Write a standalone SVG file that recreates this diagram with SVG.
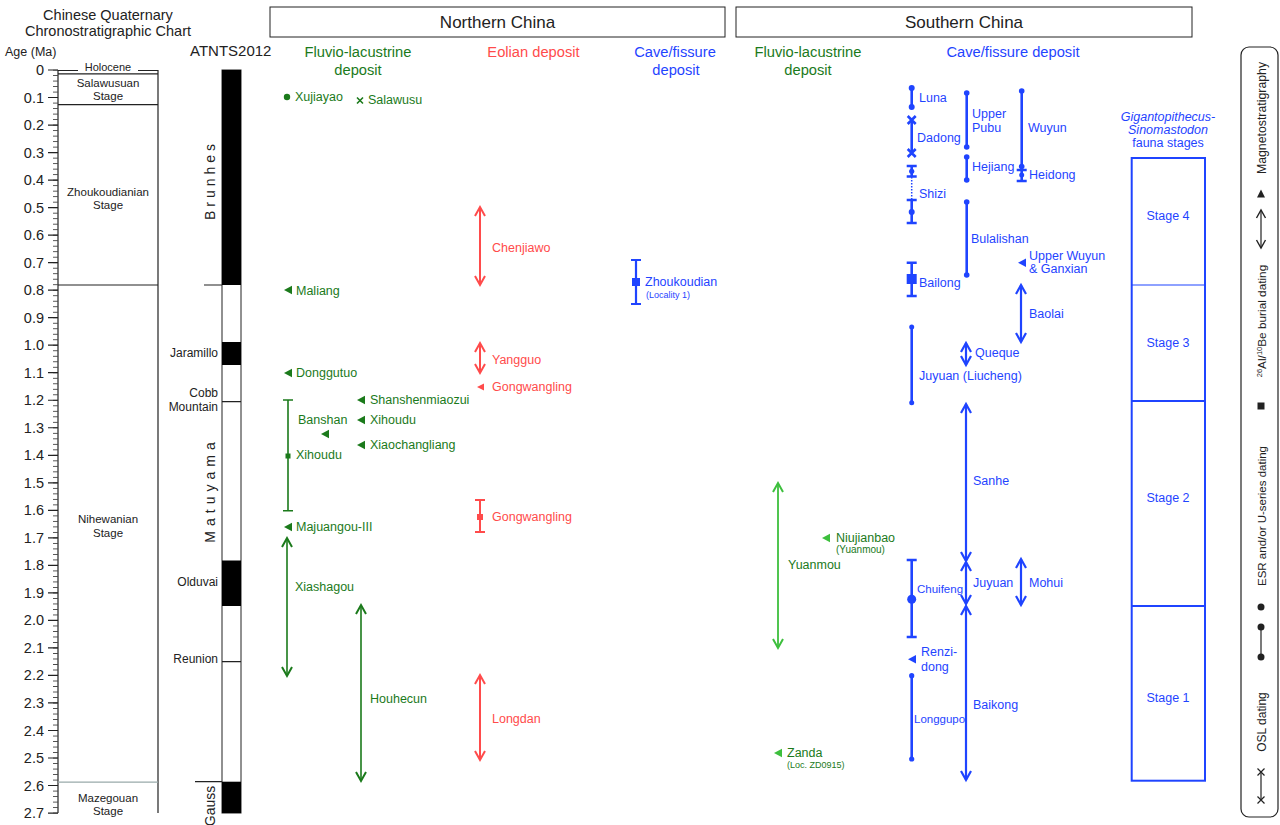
<svg xmlns="http://www.w3.org/2000/svg" width="1280" height="825" viewBox="0 0 1280 825">
<style>
text{font-family:"Liberation Sans",Arial,sans-serif}
.k{fill:#222}
.g{fill:#1b7a1b}
.lg{fill:#3dbf3d}
.r{fill:#ff4b4b}
.b{fill:#1f44ff}
.f12{font-size:12.5px}
.f11{font-size:11.5px}
.f10{font-size:10px}
.f9{font-size:9px}
.mid{text-anchor:middle}
.end{text-anchor:end}
.sg{stroke:#1b7a1b;stroke-width:1.6;fill:none}
.sl{stroke:#3dbf3d;stroke-width:1.8;fill:none}
.sr{stroke:#ff4b4b;stroke-width:2;fill:none}
.sb{stroke:#1f44ff;stroke-width:2.6;fill:none}
.sba{stroke:#1f44ff;stroke-width:2.2;fill:none}
.sk{stroke:#222;stroke-width:1.2;fill:none}
</style>
<defs>
<pattern id="tk" patternUnits="userSpaceOnUse" x="0" y="69.6" width="10" height="5.504"><rect x="0" y="0" width="10" height="0.9" fill="#444"/></pattern>
<marker id="aG" viewBox="-10 -6 13 12" refX="0" refY="0" markerWidth="13" markerHeight="12" markerUnits="userSpaceOnUse" orient="auto-start-reverse" overflow="visible"><path d="M-9,-5L0,0L-9,5" fill="none" stroke="#1b7a1b" stroke-width="2"/></marker>
<marker id="aL" viewBox="-10 -6 13 12" refX="0" refY="0" markerWidth="13" markerHeight="12" markerUnits="userSpaceOnUse" orient="auto-start-reverse" overflow="visible"><path d="M-9,-5L0,0L-9,5" fill="none" stroke="#3dbf3d" stroke-width="2"/></marker>
<marker id="aR" viewBox="-10 -6 13 12" refX="0" refY="0" markerWidth="13" markerHeight="12" markerUnits="userSpaceOnUse" orient="auto-start-reverse" overflow="visible"><path d="M-9,-5L0,0L-9,5" fill="none" stroke="#ff4b4b" stroke-width="2"/></marker>
<marker id="aB" viewBox="-10 -6 13 12" refX="0" refY="0" markerWidth="13" markerHeight="12" markerUnits="userSpaceOnUse" orient="auto-start-reverse" overflow="visible"><path d="M-9,-5L0,0L-9,5" fill="none" stroke="#1f44ff" stroke-width="2.2"/></marker>
<marker id="aK" viewBox="-10 -6 13 12" refX="0" refY="0" markerWidth="13" markerHeight="12" markerUnits="userSpaceOnUse" orient="auto-start-reverse" overflow="visible"><path d="M-8,-4.5L0,0L-8,4.5" fill="none" stroke="#222" stroke-width="1.4"/></marker>
</defs>
<rect width="1280" height="825" fill="#fff"/>

<!-- Chronostratigraphic chart -->
<g id="chrono">
<text class="k mid" x="108" y="20" font-size="14.5">Chinese Quaternary</text>
<text class="k mid" x="108" y="36" font-size="14.5">Chronostratigraphic Chart</text>
<text class="k" x="5" y="56" font-size="12.5">Age (Ma)</text>
<line x1="58" y1="70" x2="58" y2="813" class="sk"/>
<rect x="53" y="69.5" width="5" height="744" fill="url(#tk)"/>
<path class="sk" stroke-width="1.6" d="M48 70h10M48 97.52h10M48 125.04h10M48 152.56h10M48 180.08h10M48 207.6h10M48 235.12h10M48 262.64h10M48 290.16h10M48 317.68h10M48 345.2h10M48 372.72h10M48 400.24h10M48 427.76h10M48 455.28h10M48 482.8h10M48 510.32h10M48 537.84h10M48 565.36h10M48 592.88h10M48 620.4h10M48 647.92h10M48 675.44h10M48 702.96h10M48 730.48h10M48 758h10M48 785.52h10M48 813.04h10"/>
<g class="k end" font-size="14.5">
<text x="44" y="75">0</text><text x="44" y="102.5">0.1</text><text x="44" y="130">0.2</text><text x="44" y="157.6">0.3</text><text x="44" y="185">0.4</text><text x="44" y="212.6">0.5</text><text x="44" y="240">0.6</text><text x="44" y="267.6">0.7</text><text x="44" y="295">0.8</text><text x="44" y="322.7">0.9</text><text x="44" y="350.2">1.0</text><text x="44" y="377.7">1.1</text><text x="44" y="405.2">1.2</text><text x="44" y="432.8">1.3</text><text x="44" y="460.3">1.4</text><text x="44" y="487.8">1.5</text><text x="44" y="515.3">1.6</text><text x="44" y="542.8">1.7</text><text x="44" y="570.4">1.8</text><text x="44" y="597.9">1.9</text><text x="44" y="625.4">2.0</text><text x="44" y="652.9">2.1</text><text x="44" y="680.4">2.2</text><text x="44" y="708">2.3</text><text x="44" y="735.5">2.4</text><text x="44" y="763">2.5</text><text x="44" y="790.5">2.6</text><text x="44" y="818">2.7</text>
</g>
<path class="sk" d="M58 70.5H78M138 70.5H158M58 73.8H158M58 104.7H158M58 285H158M158 70V813"/>
<line x1="58" y1="782.2" x2="158" y2="782.2" stroke="#9aa" stroke-width="1.2"/>
<text class="k mid" x="108" y="71" font-size="11">Holocene</text>
<g class="k mid" font-size="11.5">
<text x="108" y="87">Salawusuan</text><text x="108" y="100">Stage</text>
<text x="108" y="196">Zhoukoudianian</text><text x="108" y="209">Stage</text>
<text x="108" y="523">Nihewanian</text><text x="108" y="537">Stage</text>
<text x="108" y="802">Mazegouan</text><text x="108" y="815">Stage</text>
</g>
</g>

<!-- Polarity column -->
<g id="atnts">
<text class="k" x="190" y="56" font-size="15">ATNTS2012</text>
<rect x="222" y="70" width="19" height="743" fill="#fff" stroke="#222" stroke-width="1"/>
<rect x="222" y="70" width="19" height="215" fill="#000"/>
<rect x="222" y="342" width="19" height="23" fill="#000"/>
<rect x="222" y="560.5" width="19" height="45.5" fill="#000"/>
<rect x="222" y="781.7" width="19" height="31.3" fill="#000"/>
<path class="sk" stroke-width="1.8" d="M222 401.7H241M222 661.7H241"/>
<path class="sk" d="M204 285H222M195 781.7H222"/>
<text class="k" transform="translate(215,180) rotate(-90)" text-anchor="middle" font-size="14" letter-spacing="4">Brunhes</text>
<text class="k" transform="translate(215,490) rotate(-90)" text-anchor="middle" font-size="14" letter-spacing="5">Matuyama</text>
<text class="k" transform="translate(215,806) rotate(-90)" text-anchor="middle" font-size="14">Gauss</text>
<g class="k end" font-size="12">
<text x="218" y="357">Jaramillo</text>
<text x="218" y="397">Cobb</text><text x="218" y="411">Mountain</text>
<text x="218" y="586">Olduvai</text>
<text x="218" y="663">Reunion</text>
</g>
</g>

<!-- Region headers -->
<g id="north-header">
<rect x="270" y="7" width="455" height="30" fill="#fff" stroke="#222" stroke-width="1"/>
<text class="k mid" x="497.5" y="28" font-size="17">Northern China</text>
</g>
<g id="south-header">
<rect x="736" y="7" width="456" height="30" fill="#fff" stroke="#222" stroke-width="1"/>
<text class="k mid" x="964" y="28" font-size="17">Southern China</text>
</g>
<g id="column-headers" font-size="14.7">
<text class="g mid" x="358" y="57">Fluvio-lacustrine</text><text class="g mid" x="358" y="75">deposit</text>
<text class="r mid" x="533.5" y="57">Eolian deposit</text>
<text class="b mid" x="675" y="57">Cave/fissure</text><text class="b mid" x="676" y="75">deposit</text>
<text class="g mid" x="808" y="57">Fluvio-lacustrine</text><text class="g mid" x="808" y="75">deposit</text>
<text class="b mid" x="1013" y="57">Cave/fissure deposit</text>
</g>

<!-- Northern fluvio-lacustrine -->
<g id="xujiayao"><circle cx="287" cy="97" r="3.2" class="g"/><text class="g f12" x="295" y="101">Xujiayao</text></g>
<g id="salawusu"><path class="sg" stroke-width="1.8" d="M357 97.5l6 6M363 97.5l-6 6"/><text class="g f12" x="368" y="104">Salawusu</text></g>
<g id="maliang"><path class="g" d="M284 290l8-4.2v8.4z"/><text class="g f12" x="296" y="295">Maliang</text></g>
<g id="donggutuo"><path class="g" d="M284 373l8-4.2v8.4z"/><text class="g f12" x="296" y="377">Donggutuo</text></g>
<g id="shanshenmiaozui"><path class="g" d="M357 400l8-4.2v8.4z"/><text class="g f12" x="370" y="404">Shanshenmiaozui</text></g>
<g id="xihoudu-1"><path class="g" d="M357 420l8-4.2v8.4z"/><text class="g f12" x="370" y="424">Xihoudu</text></g>
<g id="banshan"><text class="g f12" x="298" y="424">Banshan</text><path class="g" d="M321 434l8-4.2v8.4z"/></g>
<g id="xiaochangliang"><path class="g" d="M357 445l8-4.2v8.4z"/><text class="g f12" x="370" y="449">Xiaochangliang</text></g>
<g id="xihoudu-2"><path class="sg" d="M288 400V510.7M283 400h10M283 510.7h10"/><rect x="285.5" y="453.5" width="5" height="5" class="g"/><text class="g f12" x="296" y="459">Xihoudu</text></g>
<g id="majuangou"><path class="g" d="M284 527l8-4.2v8.4z"/><text class="g f12" x="296" y="531">Majuangou-III</text></g>
<g id="xiashagou"><line x1="287" y1="538" x2="287" y2="676" class="sg" marker-start="url(#aG)" marker-end="url(#aG)"/><text class="g f12" x="295" y="591">Xiashagou</text></g>
<g id="houhecun"><line x1="361" y1="605" x2="361" y2="781" class="sg" stroke-width="2.2" marker-start="url(#aG)" marker-end="url(#aG)"/><text class="g f12" x="370" y="703">Houhecun</text></g>

<!-- Northern eolian -->
<g id="chenjiawo"><line x1="480" y1="207" x2="480" y2="285" class="sr" marker-start="url(#aR)" marker-end="url(#aR)"/><text class="r f12" x="492" y="252">Chenjiawo</text></g>
<g id="yangguo"><line x1="480" y1="343" x2="480" y2="373" class="sr" marker-start="url(#aR)" marker-end="url(#aR)"/><text class="r f12" x="492" y="364">Yangguo</text></g>
<g id="gongwangling-1"><path class="r" d="M477 387l7-3.6v7.2z"/><text class="r f12" x="492" y="391">Gongwangling</text></g>
<g id="gongwangling-2"><path class="sr" d="M480 500V532M475 500h10M475 532h10"/><rect x="477" y="514" width="6" height="6" class="r"/><text class="r f12" x="492" y="521">Gongwangling</text></g>
<g id="longdan"><line x1="480" y1="675" x2="480" y2="760" class="sr" marker-start="url(#aR)" marker-end="url(#aR)"/><text class="r f12" x="492" y="723">Longdan</text></g>

<!-- Northern cave -->
<g id="zhoukoudian"><path class="sba" d="M636 260V304M631 260h10M631 304h10"/><rect x="632" y="278" width="8" height="8" class="b"/><text class="b f12" x="645" y="286">Zhoukoudian</text><text class="b f9" x="646" y="298">(Locality 1)</text></g>

<!-- Southern fluvio-lacustrine -->
<g id="yuanmou"><line x1="778" y1="483" x2="778" y2="648" class="sl" marker-start="url(#aL)" marker-end="url(#aL)"/><text class="g f12" x="788" y="569">Yuanmou</text></g>
<g id="niujianbao"><path class="lg" d="M822 538l8-4.2v8.4z"/><text class="g f12" x="836" y="542">Niujianbao</text><text class="g f10" x="836" y="553">(Yuanmou)</text></g>
<g id="zanda"><path class="lg" d="M774 753l8-4.2v8.4z"/><text class="g f12" x="787" y="757">Zanda</text><text class="g f9" x="787" y="768">(Loc. ZD0915)</text></g>

<!-- Southern cave column 1 -->
<g id="luna"><path class="sb" d="M911.7 88V107"/><circle cx="911.7" cy="88" r="3" class="b"/><circle cx="911.7" cy="107" r="3" class="b"/><text class="b f12" x="919" y="102">Luna</text></g>
<g id="dadong"><path class="sb" d="M911.7 120V153"/><path class="sb" stroke-width="1.8" d="M907.7 116l8 8M915.7 116l-8 8M907.7 149l8 8M915.7 149l-8 8"/><text class="b f12" x="917" y="142">Dadong</text></g>
<g id="shizi"><path class="sb" d="M911.7 166V176.5M906.7 166h10M906.7 176.5h10M911.7 200V223M906.7 200h10M906.7 223h10"/><circle cx="911.7" cy="171.3" r="2.6" class="b"/><circle cx="911.7" cy="212" r="3" class="b"/><path stroke="#1f44ff" stroke-width="1.5" stroke-dasharray="1.5 1.5" d="M911.7 177V200"/><text class="b f12" x="919" y="198">Shizi</text></g>
<g id="bailong"><path class="sb" d="M911.7 262.7V296M906.7 262.7h10M906.7 296h10"/><rect x="906.7" y="274" width="10" height="10" class="b"/><text class="b f12" x="919" y="287">Bailong</text></g>
<g id="juyuan-liucheng"><path class="sb" d="M911.7 327V402.7"/><circle cx="911.7" cy="327" r="2.5" class="b"/><circle cx="911.7" cy="402.7" r="2.5" class="b"/><text class="b f12" x="919" y="380">Juyuan (Liucheng)</text></g>
<g id="chuifeng"><path class="sb" d="M911.7 560V637M906.7 560h10M906.7 637h10"/><circle cx="911.7" cy="599.3" r="4.5" class="b"/><text class="b f11" x="917" y="593">Chuifeng</text></g>
<g id="renzidong"><path class="b" d="M908 659.3l8-4.2v8.4z"/><text class="b f12" x="921" y="656">Renzi-</text><text class="b f12" x="921" y="671">dong</text></g>
<g id="longgupo"><path class="sb" d="M911.7 675.7V759"/><circle cx="911.7" cy="675.7" r="2.6" class="b"/><circle cx="911.7" cy="759" r="2.6" class="b"/><text class="b" x="914" y="723" font-size="11.5">Longgupo</text></g>

<!-- Southern cave column 2 -->
<g id="upper-pubu"><path class="sb" d="M966.7 93V147"/><circle cx="966.7" cy="93" r="2.8" class="b"/><circle cx="966.7" cy="147" r="2.8" class="b"/><text class="b f12" x="972" y="118">Upper</text><text class="b f12" x="972" y="132">Pubu</text></g>
<g id="hejiang"><path class="sb" d="M966.7 157V180"/><circle cx="966.7" cy="157" r="2.8" class="b"/><circle cx="966.7" cy="180" r="2.8" class="b"/><text class="b f12" x="972" y="171">Hejiang</text></g>
<g id="bulalishan"><path class="sb" d="M966.7 202V275"/><circle cx="966.7" cy="202" r="2.8" class="b"/><circle cx="966.7" cy="275" r="2.8" class="b"/><text class="b f12" x="971" y="243">Bulalishan</text></g>
<g id="queque"><line x1="966" y1="343" x2="966" y2="365" class="sba" marker-start="url(#aB)" marker-end="url(#aB)"/><text class="b f12" x="975" y="357">Queque</text></g>
<g id="sanhe"><line x1="966" y1="404" x2="966" y2="561" class="sba" marker-start="url(#aB)" marker-end="url(#aB)"/><text class="b f12" x="973" y="485">Sanhe</text></g>
<g id="juyuan"><line x1="966" y1="562" x2="966" y2="604" class="sba" marker-start="url(#aB)" marker-end="url(#aB)"/><text class="b f12" x="973" y="587">Juyuan</text></g>
<g id="baikong"><line x1="966" y1="606" x2="966" y2="780" class="sba" marker-start="url(#aB)" marker-end="url(#aB)"/><text class="b f12" x="973" y="709">Baikong</text></g>

<!-- Southern cave column 3 -->
<g id="wuyun"><path class="sb" d="M1021.7 91V167"/><circle cx="1021.7" cy="91" r="2.8" class="b"/><circle cx="1021.7" cy="166.5" r="2.8" class="b"/><text class="b f12" x="1028" y="132">Wuyun</text></g>
<g id="heidong"><path class="sb" d="M1021.7 168V181M1016.7 170h10M1016.7 181h10"/><circle cx="1021.7" cy="175" r="2.5" class="b"/><text class="b f12" x="1029" y="179">Heidong</text></g>
<g id="upper-wuyun"><path class="b" d="M1018 262.7l8-4.2v8.4z"/><text class="b f12" x="1029" y="260">Upper Wuyun</text><text class="b f12" x="1029" y="273">&amp; Ganxian</text></g>
<g id="baolai"><line x1="1021" y1="285" x2="1021" y2="342" class="sba" marker-start="url(#aB)" marker-end="url(#aB)"/><text class="b f12" x="1029" y="318">Baolai</text></g>
<g id="mohui"><line x1="1021" y1="559" x2="1021" y2="605" class="sba" marker-start="url(#aB)" marker-end="url(#aB)"/><text class="b f12" x="1029" y="587">Mohui</text></g>

<!-- Fauna stages -->
<g id="fauna-stages">
<text class="b mid f12" x="1168" y="121" font-style="italic">Gigantopithecus-</text>
<text class="b mid f12" x="1168" y="134" font-style="italic">Sinomastodon</text>
<text class="b mid f12" x="1168" y="147">fauna stages</text>
<rect x="1131.7" y="158" width="73.3" height="622.7" fill="none" stroke="#1f44ff" stroke-width="2"/>
<line x1="1131.7" y1="285" x2="1205" y2="285" stroke="#1f44ff" stroke-width="1.1"/>
<line x1="1131.7" y1="401" x2="1205" y2="401" stroke="#1f44ff" stroke-width="2"/>
<line x1="1131.7" y1="606" x2="1205" y2="606" stroke="#1f44ff" stroke-width="2"/>
<text class="b mid f12" x="1168" y="220">Stage 4</text>
<text class="b mid f12" x="1168" y="347">Stage 3</text>
<text class="b mid f12" x="1168" y="502">Stage 2</text>
<text class="b mid f12" x="1168" y="702">Stage 1</text>
</g>

<!-- Legend -->
<g id="legend">
<rect x="1241" y="47" width="37" height="770" rx="8" fill="none" stroke="#222" stroke-width="1.2"/>
<text class="k" transform="translate(1265.5,118) rotate(-90)" text-anchor="middle" font-size="12.3">Magnetostratigraphy</text>
<path class="k" d="M1261 189.5l4 8h-8z"/>
<line x1="1261" y1="210" x2="1261" y2="248" class="sk" marker-start="url(#aK)" marker-end="url(#aK)"/>
<text class="k" transform="translate(1265.5,321) rotate(-90)" text-anchor="middle" font-size="11.8"><tspan font-size="7.5" dy="-4">26</tspan><tspan dy="4">Al/</tspan><tspan font-size="7.5" dy="-4">10</tspan><tspan dy="4">Be burial dating</tspan></text>
<rect x="1257.5" y="402.5" width="7" height="7" class="k"/>
<text class="k" transform="translate(1265.5,516) rotate(-90)" text-anchor="middle" font-size="11.5">ESR and/or U-series dating</text>
<circle cx="1261" cy="607" r="3.5" class="k"/>
<path class="sk" d="M1261 627V657"/><circle cx="1261" cy="627" r="3.5" class="k"/><circle cx="1261" cy="657" r="3.5" class="k"/>
<text class="k" transform="translate(1265.5,722) rotate(-90)" text-anchor="middle" font-size="12">OSL dating</text>
<path class="sk" d="M1261 772V800"/><path class="sk" stroke-width="1.6" d="M1257.5 768.5l7 7M1264.5 768.5l-7 7M1257.5 796.5l7 7M1264.5 796.5l-7 7"/>
</g>
<g id="connectors"/>
</svg>
